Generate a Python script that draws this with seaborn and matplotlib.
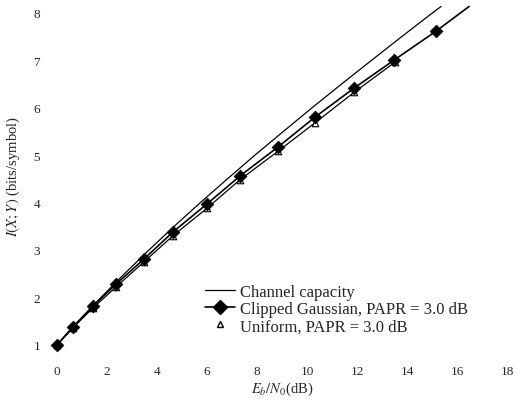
import numpy as np
import pandas as pd
import matplotlib
matplotlib.use("Agg")
import matplotlib.pyplot as plt
from matplotlib.lines import Line2D
import seaborn as sns

# Channel capacity
cap_x = [0.0, 0.86, 1.76, 2.70, 3.68, 4.69, 5.74, 6.82, 7.92, 9.06, 10.21, 11.39, 12.59, 13.80, 15.03, 15.36]
cap_y = [1.0, 1.5, 2.0, 2.5, 3.0, 3.5, 4.0, 4.5, 5.0, 5.5, 6.0, 6.5, 7.0, 7.5, 8.0, 8.13]

# Clipped Gaussian, PAPR = 3.0 dB
cg_x = [0.0, 0.64, 1.44, 2.36, 3.48, 4.64, 6.0, 7.32, 8.84, 10.32, 11.88, 13.48, 15.16, 16.48]
cg_y = [1.0, 1.38, 1.82, 2.28, 2.81, 3.38, 3.97, 4.56, 5.17, 5.80, 6.41, 7.00, 7.61, 8.13]

# Uniform, PAPR = 3.0 dB
un_x = [0.0, 0.64, 1.44, 2.36, 3.48, 4.64, 6.0, 7.32, 8.84, 10.32, 11.88, 13.5]
un_y = [1.0, 1.36, 1.78, 2.22, 2.75, 3.30, 3.88, 4.48, 5.08, 5.68, 6.32, 6.95]

x_ticks = [0, 2, 4, 6, 8, 10, 12, 14, 16, 18]
y_ticks = [1, 2, 3, 4, 5, 6, 7, 8]

labels = ["Channel capacity", "Clipped Gaussian, PAPR = 3.0 dB", "Uniform, PAPR = 3.0 dB"]

sns.set_style("white")
plt.rcParams["font.family"] = ["Liberation Serif", "DejaVu Serif"]
plt.rcParams["mathtext.fontset"] = "stix"

fig = plt.figure(figsize=(5.18, 4.06), dpi=100)
ax = fig.add_axes([0.110, 0.148, 0.869, 0.836])

sns.lineplot(x=cap_x, y=cap_y, ax=ax, color="black", lw=0.9, sort=False)
sns.lineplot(x=un_x, y=un_y, ax=ax, color="black", lw=0.9, sort=False)
sns.lineplot(x=cg_x, y=cg_y, ax=ax, color="black", lw=1.2, sort=False)

# markers (not clipped at the axes edge)
sns.scatterplot(x=un_x, y=un_y, ax=ax, marker="^", s=22, facecolor="white",
                edgecolor="black", linewidth=0.8, clip_on=False, zorder=3)
sns.scatterplot(x=cg_x[:-1], y=cg_y[:-1], ax=ax, marker="D", s=42,
                color="black", edgecolor="black", clip_on=False, zorder=4)

ax.set_xlim(0, 18)
ax.set_ylim(1, 8.15)
ax.set_xticks(x_ticks)
ax.set_yticks(y_ticks)
ax.tick_params(axis="both", length=1.2, width=1.5, color="black", labelsize=9.5)
ax.tick_params(axis="x", pad=13)
ax.tick_params(axis="y", pad=11)
for s in ax.spines.values():
    s.set_visible(False)

ax.set_xlabel(r"$E_b/N_0$(dB)", fontsize=10.5, labelpad=2)
ax.set_ylabel(r"$I(X;Y)$ (bits/symbol)", fontsize=10.5, labelpad=8)

handles = [
    Line2D([], [], color="black", lw=0.9),
    Line2D([], [], color="black", lw=1.2, marker="D", markersize=7),
    Line2D([], [], color="none", marker="^", markersize=5,
           markerfacecolor="white", markeredgecolor="black"),
]
ax.legend(handles, labels, loc="lower left", bbox_to_anchor=(0.315, 0.012),
          frameon=False, fontsize=12, handlelength=1.8, handletextpad=0.25,
          labelspacing=0.08, borderaxespad=0)

fig.savefig("out.png", dpi=100)
